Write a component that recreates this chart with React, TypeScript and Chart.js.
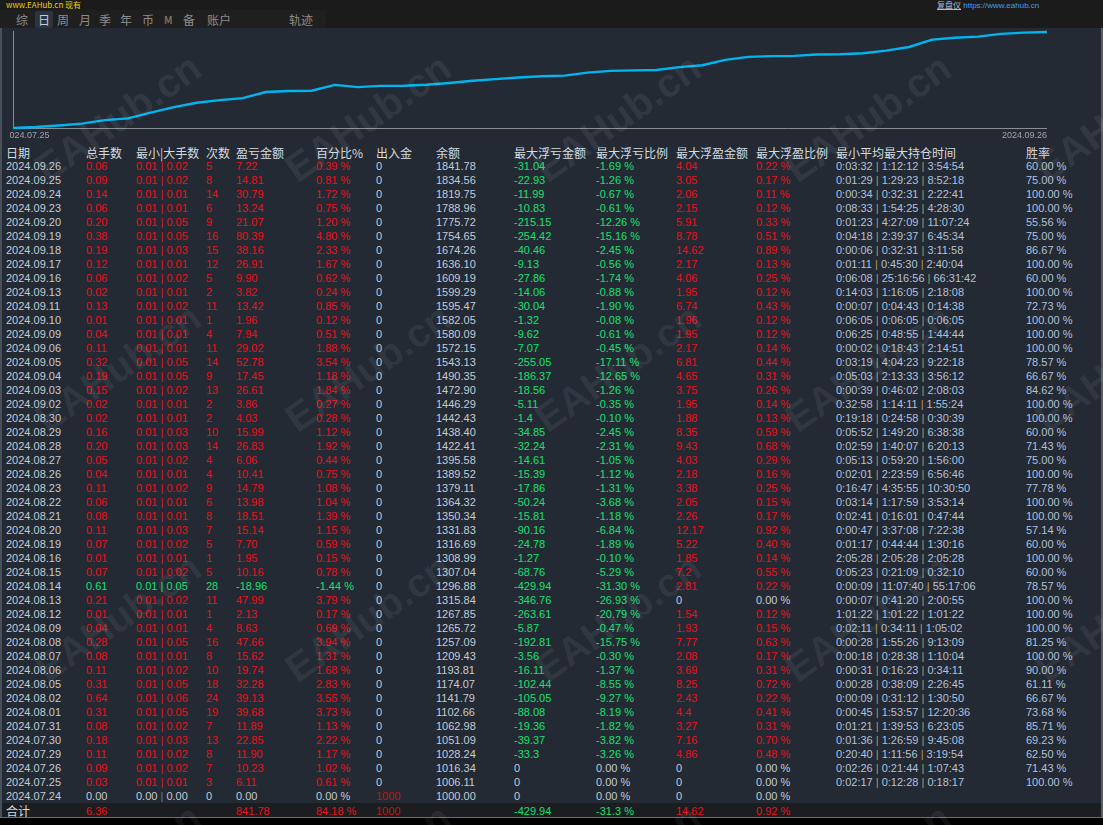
import React, { useEffect, useRef } from "react";
import { Chart, registerables } from "chart.js";

Chart.register(...registerables);

// ---------- data (table order: newest first) ----------
const dates = [
  "2024.09.26", "2024.09.25", "2024.09.24", "2024.09.23", "2024.09.20", "2024.09.19", "2024.09.18", "2024.09.17",
  "2024.09.16", "2024.09.13", "2024.09.11", "2024.09.10", "2024.09.09", "2024.09.06", "2024.09.05", "2024.09.04",
  "2024.09.03", "2024.09.02", "2024.08.30", "2024.08.29", "2024.08.28", "2024.08.27", "2024.08.26", "2024.08.23",
  "2024.08.22", "2024.08.21", "2024.08.20", "2024.08.19", "2024.08.16", "2024.08.15", "2024.08.14", "2024.08.13",
  "2024.08.12", "2024.08.09", "2024.08.08", "2024.08.07", "2024.08.06", "2024.08.05", "2024.08.02", "2024.08.01",
  "2024.07.31", "2024.07.30", "2024.07.29", "2024.07.26", "2024.07.25", "2024.07.24",
];
const totalLots = [
  0.06, 0.09, 0.14, 0.06, 0.2, 0.38, 0.19, 0.12, 0.06, 0.02, 0.13, 0.01, 0.04, 0.11, 0.32, 0.19,
  0.15, 0.02, 0.02, 0.16, 0.2, 0.05, 0.04, 0.11, 0.06, 0.08, 0.11, 0.07, 0.01, 0.07, 0.61, 0.21,
  0.01, 0.04, 0.28, 0.08, 0.11, 0.31, 0.64, 0.31, 0.08, 0.18, 0.11, 0.09, 0.03, 0.0,
];
const minLots = [
  0.01, 0.01, 0.01, 0.01, 0.01, 0.01, 0.01, 0.01, 0.01, 0.01, 0.01, 0.01, 0.01, 0.01, 0.01, 0.01,
  0.01, 0.01, 0.01, 0.01, 0.01, 0.01, 0.01, 0.01, 0.01, 0.01, 0.01, 0.01, 0.01, 0.01, 0.01, 0.01,
  0.01, 0.01, 0.01, 0.01, 0.01, 0.01, 0.01, 0.01, 0.01, 0.01, 0.01, 0.01, 0.01, 0.0,
];
const maxLots = [
  0.02, 0.02, 0.01, 0.01, 0.05, 0.05, 0.03, 0.01, 0.02, 0.01, 0.02, 0.01, 0.01, 0.01, 0.05, 0.05,
  0.02, 0.01, 0.01, 0.03, 0.03, 0.02, 0.01, 0.02, 0.01, 0.01, 0.03, 0.02, 0.01, 0.02, 0.05, 0.02,
  0.01, 0.01, 0.05, 0.01, 0.02, 0.05, 0.06, 0.05, 0.02, 0.03, 0.02, 0.02, 0.01, 0.0,
];
const tradeCounts = [
  5, 8, 14, 6, 9, 16, 15, 12, 5, 2, 11, 1, 4, 11, 14, 9,
  13, 2, 2, 10, 14, 4, 4, 9, 6, 8, 7, 5, 1, 5, 28, 11,
  1, 4, 16, 8, 10, 18, 24, 19, 7, 13, 8, 7, 3, 0,
];
const profit = [
  7.22, 14.81, 30.79, 13.24, 21.07, 80.39, 38.16, 26.91, 9.9, 3.82, 13.42, 1.96, 7.94, 29.02, 52.78, 17.45,
  26.61, 3.86, 4.03, 15.99, 26.83, 6.06, 10.41, 14.79, 13.98, 18.51, 15.14, 7.7, 1.95, 10.16, -18.96, 47.99,
  2.13, 8.63, 47.66, 15.62, 19.74, 32.28, 39.13, 39.68, 11.89, 22.85, 11.9, 10.23, 6.11, 0.0,
];
const profitPct = [
  0.39, 0.81, 1.72, 0.75, 1.2, 4.8, 2.33, 1.67, 0.62, 0.24, 0.85, 0.12, 0.51, 1.88, 3.54, 1.18,
  1.84, 0.27, 0.28, 1.12, 1.92, 0.44, 0.75, 1.08, 1.04, 1.39, 1.15, 0.59, 0.15, 0.78, -1.44, 3.79,
  0.17, 0.69, 3.94, 1.31, 1.68, 2.83, 3.55, 3.73, 1.13, 2.22, 1.17, 1.02, 0.61, 0.0,
];
const deposits = [
  0, 0, 0, 0, 0, 0, 0, 0, 0, 0, 0, 0, 0, 0, 0, 0,
  0, 0, 0, 0, 0, 0, 0, 0, 0, 0, 0, 0, 0, 0, 0, 0,
  0, 0, 0, 0, 0, 0, 0, 0, 0, 0, 0, 0, 0, 1000,
];
const balance = [
  1841.78, 1834.56, 1819.75, 1788.96, 1775.72, 1754.65, 1674.26, 1636.1, 1609.19, 1599.29, 1595.47, 1582.05,
  1580.09, 1572.15, 1543.13, 1490.35, 1472.9, 1446.29, 1442.43, 1438.4, 1422.41, 1395.58, 1389.52, 1379.11,
  1364.32, 1350.34, 1331.83, 1316.69, 1308.99, 1307.04, 1296.88, 1315.84, 1267.85, 1265.72, 1257.09, 1209.43,
  1193.81, 1174.07, 1141.79, 1102.66, 1062.98, 1051.09, 1028.24, 1016.34, 1006.11, 1000.0,
];
const maxFloatLoss = [
  -31.04, -22.93, -11.99, -10.83, -215.15, -254.42, -40.46, -9.13, -27.86, -14.06, -30.04, -1.32, -9.62, -7.07,
  -255.05, -186.37, -18.56, -5.11, -1.4, -34.85, -32.24, -14.61, -15.39, -17.86, -50.24, -15.81, -90.16, -24.78,
  -1.27, -68.76, -429.94, -346.76, -263.61, -5.87, -192.81, -3.56, -16.11, -102.44, -105.05, -88.08, -19.36,
  -39.37, -33.3, 0, 0, 0,
];
const maxFloatLossPct = [
  -1.69, -1.26, -0.67, -0.61, -12.26, -15.16, -2.45, -0.56, -1.74, -0.88, -1.9, -0.08, -0.61, -0.45, -17.11,
  -12.65, -1.26, -0.35, -0.1, -2.45, -2.31, -1.05, -1.12, -1.31, -3.68, -1.18, -6.84, -1.89, -0.1, -5.29,
  -31.3, -26.93, -20.79, -0.47, -15.75, -0.3, -1.37, -8.55, -9.27, -8.19, -1.82, -3.82, -3.26, 0, 0, 0,
];
const maxFloatProfit = [
  4.04, 3.05, 2.06, 2.15, 5.91, 8.78, 14.62, 2.17, 4.06, 1.95, 6.74, 1.96, 1.95, 2.17, 6.81, 4.65,
  3.75, 1.95, 1.88, 8.35, 9.43, 4.03, 2.18, 3.38, 2.05, 2.26, 12.17, 5.22, 1.85, 7.2, 2.81, 0,
  1.54, 1.93, 7.77, 2.08, 3.69, 8.25, 2.43, 4.4, 3.27, 7.16, 4.86, 0, 0, 0,
];
const maxFloatProfitPct = [
  0.22, 0.17, 0.11, 0.12, 0.33, 0.51, 0.89, 0.13, 0.25, 0.12, 0.43, 0.12, 0.12, 0.14, 0.44, 0.31,
  0.26, 0.14, 0.13, 0.59, 0.68, 0.29, 0.16, 0.25, 0.15, 0.17, 0.92, 0.4, 0.14, 0.55, 0.22, 0.0,
  0.12, 0.15, 0.63, 0.17, 0.31, 0.72, 0.22, 0.41, 0.31, 0.7, 0.48, 0.0, 0.0, 0.0,
];
const holdMin = [
  "0:03:32", "0:01:29", "0:00:34", "0:08:33", "0:01:23", "0:04:18", "0:00:06", "0:01:11", "0:06:08", "0:14:03",
  "0:00:07", "0:06:05", "0:06:25", "0:00:02", "0:03:19", "0:05:03", "0:00:39", "0:32:58", "0:19:18", "0:05:52",
  "0:02:59", "0:05:13", "0:02:01", "0:16:47", "0:03:14", "0:02:41", "0:00:47", "0:01:17", "2:05:28", "0:05:23",
  "0:00:09", "0:00:07", "1:01:22", "0:02:11", "0:00:28", "0:00:18", "0:00:31", "0:00:28", "0:00:09", "0:00:45",
  "0:01:21", "0:01:36", "0:20:40", "0:02:26", "0:02:17", "",
];
const holdAvg = [
  "1:12:12", "1:29:23", "0:32:31", "1:54:25", "4:27:09", "2:39:37", "0:32:31", "0:45:30", "25:16:56", "1:16:05",
  "0:04:43", "0:06:05", "0:48:55", "0:18:43", "4:04:23", "2:13:33", "0:46:02", "1:14:11", "0:24:58", "1:49:20",
  "1:40:07", "0:59:20", "2:23:59", "4:35:55", "1:17:59", "0:16:01", "3:37:08", "0:44:44", "2:05:28", "0:21:09",
  "11:07:40", "0:41:20", "1:01:22", "0:34:11", "1:55:26", "0:28:38", "0:16:23", "0:38:09", "0:31:12", "1:53:57",
  "1:39:53", "1:26:59", "1:11:56", "0:21:44", "0:12:28", "",
];
const holdMax = [
  "3:54:54", "8:52:18", "2:22:41", "4:28:30", "11:07:24", "6:45:34", "3:11:58", "2:40:04", "66:31:42", "2:18:08",
  "0:14:38", "0:06:05", "1:44:44", "2:14:51", "9:22:18", "3:56:12", "2:08:03", "1:55:24", "0:30:39", "6:38:38",
  "6:20:13", "1:56:00", "6:56:46", "10:30:50", "3:53:14", "0:47:44", "7:22:38", "1:30:16", "2:05:28", "0:32:10",
  "55:17:06", "2:00:55", "1:01:22", "1:05:02", "9:13:09", "1:10:04", "0:34:11", "2:26:45", "1:30:50", "12:20:36",
  "6:23:05", "9:45:08", "3:19:54", "1:07:43", "0:18:17", "",
];
const winRate: (number | null)[] = [
  60.0, 75.0, 100.0, 100.0, 55.56, 75.0, 86.67, 100.0, 60.0, 100.0, 72.73, 100.0, 100.0, 100.0, 78.57, 66.67,
  84.62, 100.0, 100.0, 60.0, 71.43, 75.0, 100.0, 77.78, 100.0, 100.0, 57.14, 60.0, 100.0, 60.0, 78.57, 100.0,
  100.0, 100.0, 81.25, 100.0, 90.0, 61.11, 66.67, 73.68, 85.71, 69.23, 62.5, 71.43, 100.0, null,
];
const summaryValues = ["6.36", "841.78", "84.18 %", "1000", "-429.94", "-31.3 %", "14.62", "0.92 %"];
const headers = [
  "日期", "总手数", "最小|大手数", "次数", "盈亏金额", "百分比%", "出入金", "余额",
  "最大浮亏金额", "最大浮亏比例", "最大浮盈金额", "最大浮盈比例", "最小平均最大持仓时间", "胜率",
];
const axisLabels = ["2024.07.25", "2024.09.26"];
const tabs = ["综", "日", "周", "月", "季", "年", "币", "M", "备", "账户", "轨迹"];

// ---------- styles ----------
const RED = "#ea1119";
const DARK_RED = "#c41212";
const GREEN = "#14e06c";
const GRAY = "#c3cad6";
const TIME = "#b3c0da";
const BAR_TIME = "#b8946a";
const LINE = "#00b5f0";
const PANEL = "#232a34";
const FONT = "'Liberation Sans', Arial, 'Noto Sans CJK SC', sans-serif";
const CJK = "'Noto Sans CJK SC', 'Liberation Sans', sans-serif";

const colX = [6, 86, 136, 206, 236, 316, 376, 436, 514, 596, 676, 756, 836, 1026];
const tabX = [16, 38, 57, 79, 99, 120, 142, 164, 183, 207, 289];

const signColor = (v: number) => (v > 0 ? RED : v < 0 ? GREEN : GRAY);

export default function App() {
  const canvasRef = useRef<HTMLCanvasElement>(null);

  useEffect(() => {
    document.body.style.margin = "0";
    document.body.style.background = "#000";
    const canvas = canvasRef.current;
    if (!canvas) return;
    const chronoBalance = [...balance].reverse();
    const chronoDates = [...dates].reverse();
    const yMin = Math.min(...chronoBalance);
    const yMax = Math.max(...chronoBalance);

    const axisPlugin = {
      id: "mtAxes",
      beforeDatasetsDraw(chart: any) {
        const { ctx, chartArea } = chart;
        const xs = chart.scales.x;
        const ys = chart.scales.y;
        const left = Math.round(xs.getPixelForValue(0)) + 0.5;
        const right = Math.round(xs.getPixelForValue(chronoBalance.length - 1));
        const bottom = Math.round(ys.getPixelForValue(yMin)) + 0.5;
        ctx.save();
        ctx.strokeStyle = "#8a8c90";
        ctx.lineWidth = 1;
        ctx.beginPath();
        ctx.moveTo(left, chartArea.top - 1);
        ctx.lineTo(left, bottom);
        ctx.lineTo(right, bottom);
        ctx.stroke();
        ctx.fillStyle = "#9ea4ad";
        ctx.font = "9px 'Liberation Sans', Arial, sans-serif";
        ctx.textBaseline = "middle";
        ctx.textAlign = "left";
        ctx.fillText(axisLabels[0], left - 9, bottom + 7);
        ctx.textAlign = "right";
        ctx.fillText(axisLabels[1], right, bottom + 7);
        ctx.restore();
      },
    };

    const chart = new Chart(canvas, {
      type: "line",
      data: {
        labels: chronoDates,
        datasets: [
          {
            data: chronoBalance,
            borderColor: LINE,
            borderWidth: 2.4,
            pointRadius: 0,
            tension: 0,
            fill: false,
            clip: false as any,
          },
        ],
      },
      options: {
        animation: false,
        responsive: false,
        maintainAspectRatio: false,
        events: [],
        layout: { padding: { left: 4, right: 56, top: 4, bottom: 12 } },
        plugins: { legend: { display: false }, tooltip: { enabled: false } },
        scales: {
          x: { display: false, offset: false },
          y: { type: "logarithmic", display: false, min: yMin, max: yMax },
        },
      },
      plugins: [axisPlugin],
    });
    return () => chart.destroy();
  }, []);

  const cell = (left: number, content: React.ReactNode, color: string, key: string | number) => (
    <span key={key} style={{ position: "absolute", left, color }}>
      {content}
    </span>
  );

  const rows = dates.map((d, i) => {
    const pc = signColor(profit[i]);
    const barColor = profit[i] === 0 ? "#4f7fcf" : pc;
    const top = 159 + 14 * i;
    return (
      <div
        key={d}
        style={{ position: "absolute", top, left: 0, width: 1103, height: 14, lineHeight: "14px", whiteSpace: "nowrap" }}
      >
        {cell(colX[0], d, GRAY, 0)}
        {cell(colX[1], totalLots[i].toFixed(2), pc, 1)}
        {cell(
          colX[2],
          <>
            {minLots[i].toFixed(2)} <span style={{ color: barColor }}>|</span> {maxLots[i].toFixed(2)}
          </>,
          pc,
          2
        )}
        {cell(colX[3], String(tradeCounts[i]), pc, 3)}
        {cell(colX[4], profit[i].toFixed(2), pc, 4)}
        {cell(colX[5], profitPct[i].toFixed(2) + " %", pc, 5)}
        {cell(colX[6], String(deposits[i]), deposits[i] > 0 ? DARK_RED : GRAY, 6)}
        {cell(colX[7], balance[i].toFixed(2), GRAY, 7)}
        {cell(colX[8], String(maxFloatLoss[i]), maxFloatLoss[i] < 0 ? GREEN : GRAY, 8)}
        {cell(colX[9], maxFloatLossPct[i].toFixed(2) + " %", maxFloatLossPct[i] < 0 ? GREEN : GRAY, 9)}
        {cell(colX[10], String(maxFloatProfit[i]), maxFloatProfit[i] > 0 ? RED : GRAY, 10)}
        {cell(colX[11], maxFloatProfitPct[i].toFixed(2) + " %", maxFloatProfitPct[i] > 0 ? RED : GRAY, 11)}
        {holdMin[i]
          ? cell(
              colX[12],
              <>
                {holdMin[i]} <span style={{ color: BAR_TIME }}>|</span> {holdAvg[i]}{" "}
                <span style={{ color: BAR_TIME }}>|</span> {holdMax[i]}
              </>,
              TIME,
              12
            )
          : null}
        {winRate[i] !== null ? cell(colX[13], (winRate[i] as number).toFixed(2) + " %", TIME, 13) : null}
      </div>
    );
  });

  const summaryCols = [1, 4, 5, 6, 8, 9, 10, 11];
  const summaryColors = [RED, RED, RED, DARK_RED, GREEN, GREEN, RED, RED];

  const watermarks: React.ReactNode[] = [];
  for (let j = 0; j < 4; j++) {
    for (let k = 0; k < 5; k++) {
      watermarks.push(
        <div
          key={`w${j}-${k}`}
          style={{
            position: "absolute",
            left: 118 + 250 * k,
            top: 118 + 250 * j,
            transform: "translate(-50%, -50%) rotate(-35deg)",
            font: `bold 40px ${FONT}`,
            color: "rgba(255,255,255,0.065)",
            whiteSpace: "nowrap",
            pointerEvents: "none",
          }}
        >
          EAHub.cn
        </div>
      );
    }
  }

  return (
    <div
      style={{
        position: "relative",
        width: 1103,
        height: 825,
        overflow: "hidden",
        background: "#000",
        fontFamily: FONT,
        fontSize: 11,
      }}
    >
      {/* top bar */}
      <div style={{ position: "absolute", left: 0, top: 0, width: 1103, height: 28, background: "#1b1b1b" }} />
      <div style={{ position: "absolute", left: 0, top: 10, width: 326, height: 18, background: "#1f1f1f" }} />
      <div
        style={{
          position: "absolute",
          left: 6,
          top: 0,
          color: "#e6d400",
          fontSize: 8,
          fontFamily: CJK,
          lineHeight: "9px",
          whiteSpace: "nowrap",
        }}
      >
        www.EAHub.cn 现有
      </div>
      <div
        style={{
          position: "absolute",
          left: 937,
          top: 0,
          fontSize: 8,
          lineHeight: "9px",
          whiteSpace: "nowrap",
        }}
      >
        <span style={{ color: "#a9bedb", fontFamily: CJK, textDecoration: "underline" }}>复盘仪</span>{" "}
        <span style={{ color: "#3f9fee" }}>https://www.eahub.cn</span>
      </div>
      <div
        style={{ position: "absolute", left: 35, top: 11, width: 18, height: 17, background: "#2b3441", borderRadius: 2 }}
      />
      {tabs.map((t, i) => (
        <span
          key={t}
          style={{
            position: "absolute",
            left: tabX[i],
            top: 11,
            lineHeight: "17px",
            fontFamily: CJK,
            fontSize: t === "M" ? 10 : 12,
            fontWeight: t === "M" ? 700 : 400,
            color: t === "日" ? "#c6cfdb" : t === "M" ? "#7d6f58" : "#8c8c8c",
            whiteSpace: "nowrap",
          }}
        >
          {t}
        </span>
      ))}

      {/* panel */}
      <div style={{ position: "absolute", left: 0, top: 28, width: 1103, height: 789, background: PANEL }} />
      <div style={{ position: "absolute", left: 0, top: 28, width: 2, height: 789, background: "#48505c" }} />
      <div style={{ position: "absolute", left: 1101, top: 28, width: 2, height: 789, background: "#5a5e64" }} />

      <canvas
        ref={canvasRef}
        width={1094}
        height={112}
        style={{ position: "absolute", left: 9, top: 28, width: 1094, height: 112 }}
      />

      {/* header */}
      <div style={{ position: "absolute", top: 146, left: 0, width: 1103, height: 14, lineHeight: "14px", whiteSpace: "nowrap" }}>
        {headers.map((h, i) => (
          <span key={h} style={{ position: "absolute", left: colX[i], color: "#d6d9de", fontFamily: CJK, fontSize: 12 }}>
            {h}
          </span>
        ))}
      </div>

      {rows}

      {/* summary */}
      <div style={{ position: "absolute", left: 2, top: 803, width: 1099, height: 14, background: "#1b1d21" }} />
      <div style={{ position: "absolute", top: 804, left: 0, width: 1103, height: 14, lineHeight: "14px", whiteSpace: "nowrap" }}>
        <span style={{ position: "absolute", left: 6, color: "#d6d9de", fontFamily: CJK, fontSize: 12 }}>合计</span>
        {summaryValues.map((v, i) => (
          <span key={i} style={{ position: "absolute", left: colX[summaryCols[i]], color: summaryColors[i] }}>
            {v}
          </span>
        ))}
      </div>
      <div style={{ position: "absolute", left: 0, top: 817, width: 1103, height: 1, background: "#6b6e73" }} />
      <div style={{ position: "absolute", left: 0, top: 818, width: 1103, height: 7, background: "#000" }} />

      {watermarks}
    </div>
  );
}
